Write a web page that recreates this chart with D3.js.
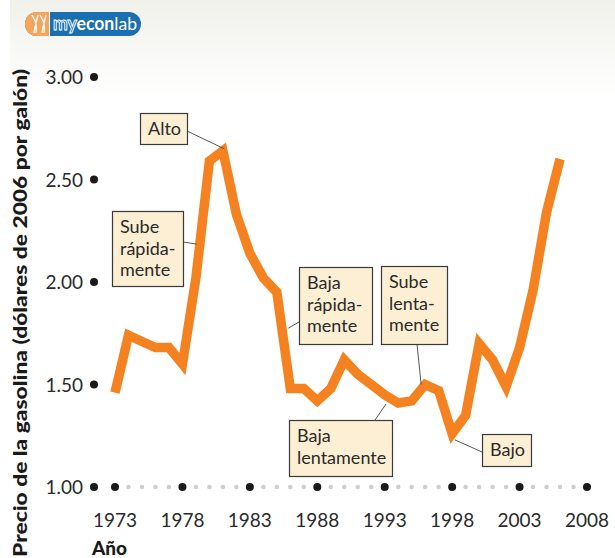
<!DOCTYPE html>
<html>
<head>
<meta charset="utf-8">
<script src="https://cdn.jsdelivr.net/npm/d3@7"></script>
<style>
  body { margin: 0; background: #fff; }
  svg { display: block; }
</style>
</head>
<body>
<script>
// data: real gasoline price, 2006 dollars per gallon
const years = d3.range(1973, 2007);
const prices = [1.46, 1.74, 1.71, 1.68, 1.68, 1.60, 2.02, 2.59, 2.64, 2.33,
                2.14, 2.02, 1.95, 1.48, 1.48, 1.42, 1.48, 1.62, 1.55, 1.50,
                1.45, 1.41, 1.42, 1.50, 1.47, 1.26, 1.35, 1.70, 1.62, 1.49,
                1.68, 1.96, 2.34, 2.60];

const yTicks = [1.00, 1.50, 2.00, 2.50, 3.00];
const xTicks = [1973, 1978, 1983, 1988, 1993, 1998, 2003, 2008];

// annotation labels and the point on the curve they point at
const noteLines = [["Alto"], ["Sube", "rápida-", "mente"], ["Baja", "rápida-", "mente"],
                   ["Sube", "lenta-", "mente"], ["Baja", "lentamente"], ["Bajo"]];
const noteTargets = [[1981.1, 2.65], [1979.05, 2.185], [1985.85, 1.775],
                     [1995.7, 1.50], [1993.1, 1.405], [1998.2, 1.23]];

const canvWidth = 615, canvHeight = 558;
const svg = d3.select("body").append("svg")
    .attr("width", canvWidth)
    .attr("height", canvHeight);

// faint grey band at the top
const grad = svg.append("defs").append("linearGradient")
    .attr("id", "topfade").attr("x1", 0).attr("y1", 0).attr("x2", 0).attr("y2", 1);
grad.append("stop").attr("offset", "0%").attr("stop-color", "#f1f1eb");
grad.append("stop").attr("offset", "100%").attr("stop-color", "#ffffff");
svg.append("rect")
    .attr("x", 10).attr("y", 0)
    .attr("width", canvWidth - 10).attr("height", 100)
    .attr("fill", "url(#topfade)");

// myeconlab logo
const logo = svg.append("g");
logo.append("rect")
    .attr("x", 25).attr("y", 12).attr("width", 116).attr("height", 24)
    .attr("rx", 12).attr("fill", "#1a6fb0");
logo.append("path")
    .attr("d", "M49,12 H37 A12,12 0 0 0 37,36 H49 Z")
    .attr("fill", "#f6a35b");
logo.append("line")
    .attr("x1", 49.5).attr("x2", 49.5).attr("y1", 12).attr("y2", 36)
    .attr("stroke", "#fff").attr("stroke-width", 1);
logo.append("path")
    .attr("d", "M32,15 C35,20 37,22 36,33 M38,15 C37,20 35,24 34,33 M40,15 C43,20 45,22 44,33 M46,15 C45,20 43,24 42,33")
    .attr("fill", "none").attr("stroke", "#fff").attr("stroke-width", 1.3);
const logoText = logo.append("text")
    .attr("x", 53).attr("y", 30)
    .attr("font-family", "Lato, sans-serif")
    .attr("font-size", "18px")
    .attr("font-weight", "bold")
    .attr("textLength", 84).attr("lengthAdjust", "spacingAndGlyphs");
logoText.append("tspan").attr("fill", "#1a6fb0").attr("stroke", "#fff")
    .attr("stroke-width", 0.9).text("my");
logoText.append("tspan").attr("fill", "#fff").text("econ");
logoText.append("tspan").attr("fill", "#fff").attr("font-weight", "normal").text("lab");

// scales
const xScale = d3.scaleLinear().domain([1973, 2008]).range([115, 587]);
const yScale = d3.scaleLinear().domain([1, 3]).range([487, 77]);
const axisX = 94;

const font = "Lato, 'Noto Sans', sans-serif";
const textCol = "#2a2a2a";

// y axis dots and labels
svg.selectAll(".ydot").data(yTicks).enter().append("circle")
    .attr("cx", axisX).attr("cy", d => yScale(d)).attr("r", 4)
    .attr("fill", "#1a1a1a");
svg.selectAll(".ylab").data(yTicks).enter().append("text")
    .attr("x", 83).attr("y", d => yScale(d) + 7)
    .attr("text-anchor", "end")
    .attr("font-family", font).attr("font-size", "19px")
    .attr("fill", textCol)
    .text(d => d.toFixed(2));

// x axis: grey dot per year, black dot per tick
const minorYears = d3.range(1973, 2009).filter(y => !xTicks.includes(y));
svg.selectAll(".xminor").data(minorYears).enter().append("circle")
    .attr("cx", d => xScale(d)).attr("cy", yScale(1)).attr("r", 2.3)
    .attr("fill", "#cfcfcf");
svg.selectAll(".xdot").data(xTicks).enter().append("circle")
    .attr("cx", d => xScale(d)).attr("cy", yScale(1)).attr("r", 4)
    .attr("fill", "#1a1a1a");
svg.selectAll(".xlab").data(xTicks).enter().append("text")
    .attr("x", d => xScale(d)).attr("y", 527)
    .attr("text-anchor", "middle")
    .attr("font-family", font).attr("font-size", "19px")
    .attr("fill", textCol)
    .text(d => d);

// axis titles
svg.append("text")
    .attr("x", 92).attr("y", 555)
    .attr("font-family", font).attr("font-size", "19px").attr("font-weight", "900")
    .attr("fill", "#1a1a1a")
    .text("Año");
svg.append("text")
    .attr("transform", "translate(27,313) rotate(-90)")
    .attr("text-anchor", "middle")
    .attr("font-family", font).attr("font-size", "18px").attr("font-weight", "900")
    .attr("fill", "#1a1a1a")
    .attr("textLength", 488).attr("lengthAdjust", "spacingAndGlyphs")
    .text("Precio de la gasolina (dólares de 2006 por galón)");

// price line
const line = d3.line()
    .x((d, i) => xScale(years[i]))
    .y(d => yScale(d));
svg.append("path")
    .datum(prices)
    .attr("d", line)
    .attr("fill", "none")
    .attr("stroke", "#f58220")
    .attr("stroke-width", 9.5)
    .attr("stroke-linejoin", "miter");

// annotation boxes: box x, y, w, h and where the leader leaves the box
const boxes = [[140, 113, 47, 31], [112, 211, 71, 75], [299, 267, 73, 77],
               [381, 266, 66, 78], [289, 420, 103, 56], [482, 434, 49, 32]];
const leaderFrom = [[187, 131], [183, 242], [299, 322], [417, 344], [375, 420], [482, 452]];

noteLines.forEach((lines, i) => {
    const [bx, by, bw, bh] = boxes[i];
    svg.append("line")
        .attr("x1", leaderFrom[i][0]).attr("y1", leaderFrom[i][1])
        .attr("x2", xScale(noteTargets[i][0])).attr("y2", yScale(noteTargets[i][1]))
        .attr("stroke", "#444").attr("stroke-width", 0.9);
    svg.append("rect")
        .attr("x", bx + 0.5).attr("y", by + 0.5)
        .attr("width", bw).attr("height", bh)
        .attr("fill", "#fdefd4")
        .attr("stroke", "#3a3a3a").attr("stroke-width", 1.2);
    svg.append("text")
        .attr("font-family", font).attr("font-size", "18px")
        .attr("fill", textCol)
        .selectAll("tspan").data(lines).enter().append("tspan")
        .attr("x", bx + 8)
        .attr("y", (d, j) => by + 22 + j * 21.5)
        .text(d => d);
});
</script>
</body>
</html>
